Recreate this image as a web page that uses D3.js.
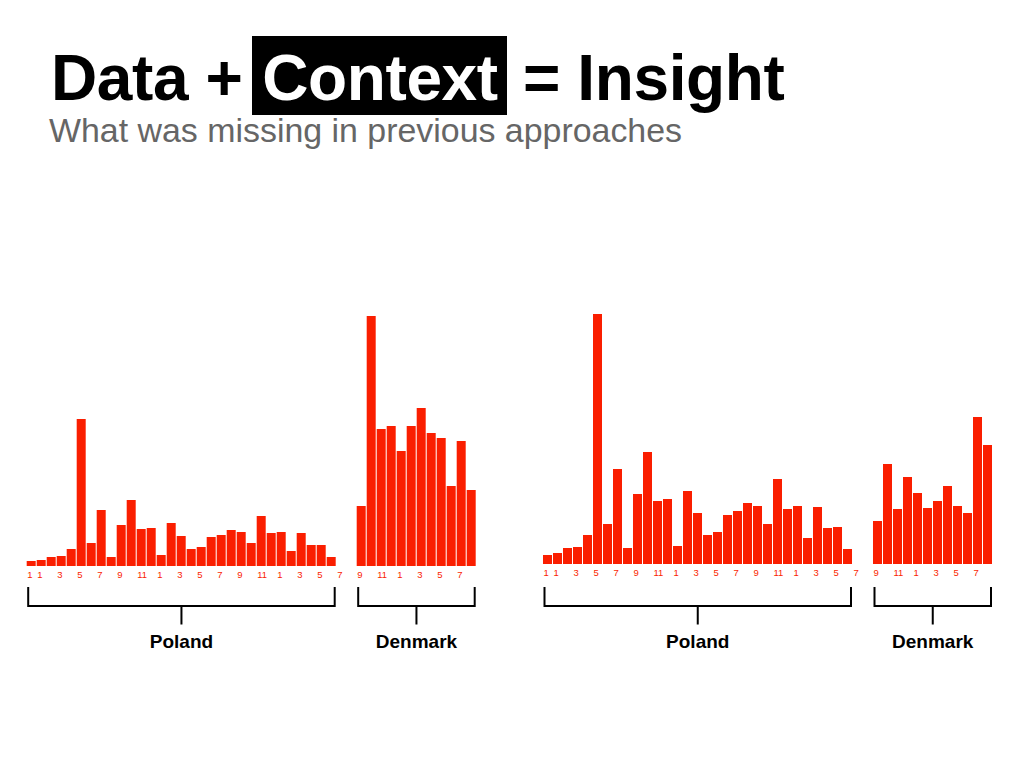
<!DOCTYPE html>
<html>
<head>
<meta charset="utf-8">
<script src="https://cdn.jsdelivr.net/npm/d3@7"></script>
<style>
  body { margin: 0; background: #fff; }
  svg { display: block; }
</style>
</head>
<body>
<svg id="slide" width="1024" height="768"></svg>
<script>
// Monthly values (arbitrary index units)
const leftPoland   = [5, 6, 9, 10, 17, 147, 23, 56, 9, 41, 66, 37, 38, 11, 43, 30, 17, 19, 29, 31, 36, 34, 23, 50, 33, 34, 15, 33, 21, 21, 9];
const leftDenmark  = [60, 250, 137, 140, 115, 140, 158, 133, 128, 80, 125, 76];
const rightPoland  = [9, 11, 16, 17, 29, 250, 40, 95, 16, 70, 112, 63, 65, 18, 73, 51, 29, 32, 49, 53, 61, 58, 40, 85, 55, 58, 26, 57, 36, 37, 15];
const rightDenmark = [43, 100, 55, 87, 71, 56, 63, 78, 58, 51, 147, 119];

// Month tick labels (slot index -> label)
const plTickPos  = [0, 1, 3, 5, 7, 9, 11, 13, 15, 17, 19, 21, 23, 25, 27, 29, 31];
const plTickText = ["1", "1", "3", "5", "7", "9", "11", "1", "3", "5", "7", "9", "11", "1", "3", "5", "7"];
const dkTickPos  = [0, 2, 4, 6, 8, 10];
const dkTickText = ["9", "11", "1", "3", "5", "7"];

const countries = ["Poland", "Denmark"];

const svg = d3.select('#slide');
const RED = '#fa1e00';
const FONT = '"Liberation Sans", Arial, Helvetica, sans-serif';

// ---- title ----
const title = svg.append('g')
    .attr('font-family', FONT)
    .attr('font-weight', 'bold')
    .attr('font-size', 64)
    .attr('letter-spacing', -0.4);

title.append('text').attr('x', 51).attr('y', 100).text('Data +');
title.append('rect')
    .attr('x', 252).attr('y', 36)
    .attr('width', 255).attr('height', 79)
    .attr('fill', '#000');
title.append('text')
    .attr('x', 380).attr('y', 100)
    .attr('text-anchor', 'middle')
    .attr('fill', '#fff')
    .text('Context');
title.append('text').attr('x', 523).attr('y', 100).text('= Insight');

svg.append('text')
    .attr('x', 49).attr('y', 142)
    .attr('font-family', FONT)
    .attr('font-size', 32.5)
    .attr('fill', '#666')
    .attr('textLength', 633)
    .attr('lengthAdjust', 'spacingAndGlyphs')
    .text('What was missing in previous approaches');

// ---- panels ----
const DK_OFFSET = 33; // Denmark starts 33 slots after Poland
const panels = [
    {x0: 26.7, base: 566, poland: leftPoland, denmark: leftDenmark},
    {x0: 543,  base: 564, poland: rightPoland, denmark: rightDenmark}
];

panels.forEach(p => {
    const x = d3.scaleLinear().domain([0, 45]).range([p.x0, p.x0 + 450]);
    const y = d3.scaleLinear().domain([0, 250]).range([p.base, p.base - 250]);
    const bw = x(1) - x(0) - 1;

    const g = svg.append('g');

    const groups = [
        {name: countries[0], vals: p.poland,  start: 0,         tickPos: plTickPos, tickText: plTickText},
        {name: countries[1], vals: p.denmark, start: DK_OFFSET, tickPos: dkTickPos, tickText: dkTickText}
    ];

    groups.forEach(grp => {
        g.selectAll(null)
            .data(grp.vals)
            .enter()
            .append('rect')
            .attr('x', (d, i) => x(grp.start + i))
            .attr('y', d => y(d))
            .attr('width', bw)
            .attr('height', d => p.base - y(d))
            .attr('fill', RED);

        // month labels via an axis
        const axis = d3.axisBottom(x)
            .tickValues(grp.tickPos.map(t => t + grp.start))
            .tickFormat((d, i) => grp.tickText[i])
            .tickSize(0);

        const ax = g.append('g')
            .attr('transform', `translate(0,${p.base})`)
            .call(axis);
        ax.select('.domain').remove();
        ax.selectAll('text')
            .attr('y', 12)
            .attr('dy', 0)
            .attr('text-anchor', 'start')
            .attr('fill', RED)
            .attr('font-family', FONT)
            .attr('font-size', 9.5);

        // bracket under the group
        const bx1 = x(grp.start) + 1.5;
        const bx2 = x(grp.start + grp.vals.length) - 2;
        const mid = (bx1 + bx2) / 2;
        g.append('path')
            .attr('d', `M${bx1},587V606H${bx2}V587M${mid},606V624.5`)
            .attr('fill', 'none')
            .attr('stroke', '#000')
            .attr('stroke-width', 2);

        g.append('text')
            .attr('x', mid)
            .attr('y', 648)
            .attr('text-anchor', 'middle')
            .attr('font-family', FONT)
            .attr('font-weight', 'bold')
            .attr('font-size', 19)
            .text(grp.name);
    });
});
</script>
</body>
</html>
